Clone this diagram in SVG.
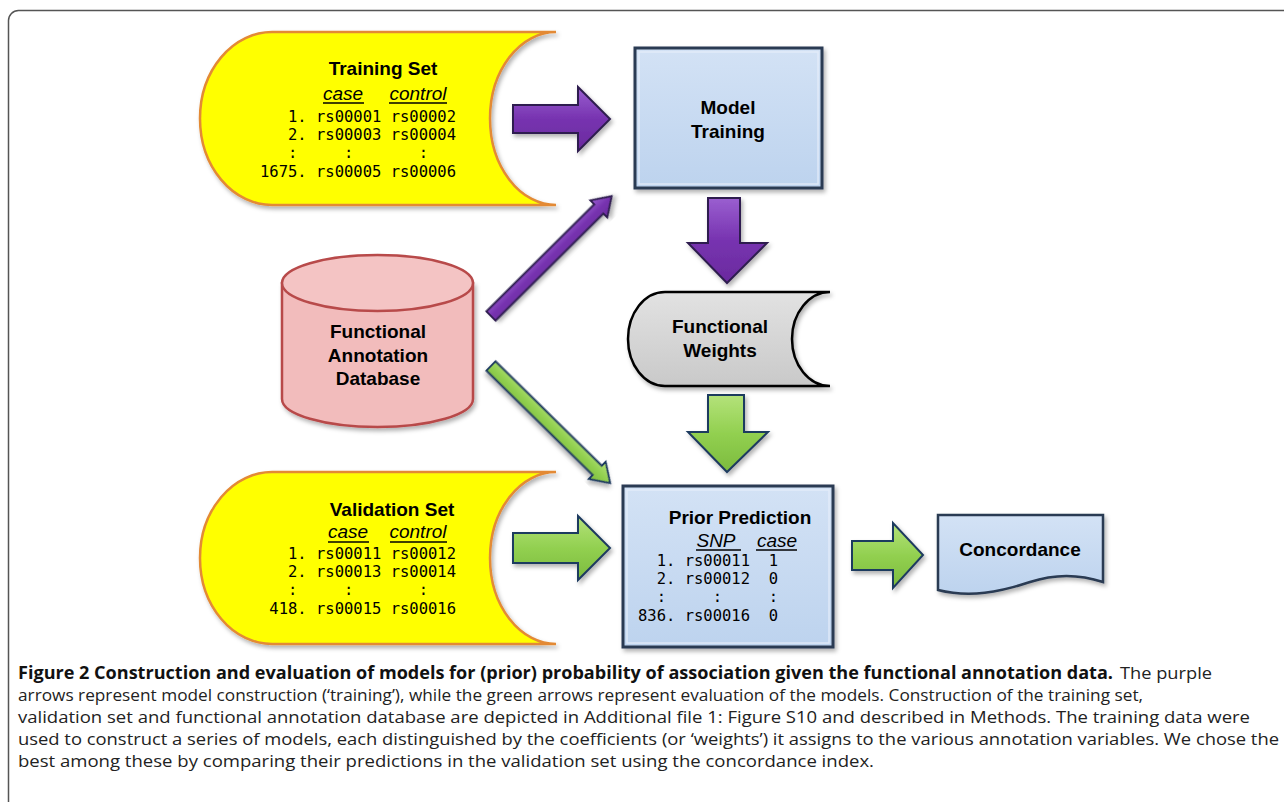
<svg xmlns="http://www.w3.org/2000/svg" width="1284" height="802" viewBox="0 0 1284 802">
<defs>
<style>
.lbl{font-family:"Liberation Sans",Arial,sans-serif;font-weight:bold;font-size:19px;fill:#000;text-anchor:middle}
.hdr{font-family:"Liberation Sans",Arial,sans-serif;font-style:italic;font-size:19px;fill:#000;text-anchor:middle}
.mono{font-family:"DejaVu Sans Mono",monospace;font-size:15.5px;fill:#000;white-space:pre}
.ul{stroke:#000;stroke-width:1.6}
.cap{font-family:"Open Sans","Liberation Sans",sans-serif;font-size:17px;fill:#222}
.capb{font-family:"Open Sans","Liberation Sans",sans-serif;font-size:17px;font-weight:bold;fill:#111}
.yel{fill:#ffff00;stroke:#e38a35;stroke-width:2.5}
.blue{fill:url(#gBlue);stroke:#2a3a52;stroke-width:3}
.bevel{fill:none;stroke:#e6eefa;stroke-width:1.5;opacity:0.8}
.purp{fill:url(#gPurp);stroke:#2f1f4f;stroke-width:2;stroke-linejoin:miter}
.green{fill:url(#gGreen);stroke:#1f3a5f;stroke-width:2;stroke-linejoin:miter}
</style>
<linearGradient id="gBlue" x1="0" y1="0" x2="0" y2="1">
<stop offset="0" stop-color="#d3e2f5"/><stop offset="1" stop-color="#bdd3ee"/>
</linearGradient>
<linearGradient id="gGray" x1="0" y1="0" x2="0" y2="1">
<stop offset="0" stop-color="#e2e2e2"/><stop offset="1" stop-color="#c9c9c9"/>
</linearGradient>
<linearGradient id="gPurp" x1="0" y1="0" x2="0" y2="1">
<stop offset="0" stop-color="#9a5fd0"/><stop offset="0.5" stop-color="#7733b0"/><stop offset="1" stop-color="#6a2a9e"/>
</linearGradient>
<linearGradient id="gGreen" x1="0" y1="0" x2="0" y2="1">
<stop offset="0" stop-color="#b4e27a"/><stop offset="0.5" stop-color="#92d050"/><stop offset="1" stop-color="#7cbb3e"/>
</linearGradient>
<filter id="sh" x="-10%" y="-10%" width="125%" height="130%">
<feDropShadow dx="2" dy="3" stdDeviation="2" flood-color="#000" flood-opacity="0.3"/>
</filter>
</defs>

<rect x="8.5" y="10.5" width="1300" height="820" rx="10" fill="#fff" stroke="#555" stroke-width="1.5"/>

<g id="connectors">
<path class="purp" filter="url(#sh)" d="M513,105 H578 V87 L610,119 L578,151 V133 H513 Z"/>
<path class="purp" filter="url(#sh)" d="M708,198 H740 V243 H767 L727,283 L688,243 H708 Z"/>
<g transform="translate(491,316) rotate(-44.8)">
<path class="purp" filter="url(#sh)" d="M0,-6.5 H152 V-12 L170,0 L152,12 V6.5 H0 Z"/>
</g>
<g transform="translate(491,366) rotate(44.5)">
<path class="green" filter="url(#sh)" d="M0,-6.5 H149 V-12 L167,0 L149,12 V6.5 H0 Z"/>
</g>
<path class="green" filter="url(#sh)" d="M708,395 H744 V432 H768 L727,472 L688,432 H708 Z"/>
<path class="green" filter="url(#sh)" d="M513,533 H578 V516 L610,548 L578,580 V563 H513 Z"/>
<path class="green" filter="url(#sh)" d="M852,541 H893 V523 L923,555 L893,588 V570 H852 Z"/>
</g>

<g id="training-set">
<path class="yel" filter="url(#sh)" d="M272,32 H556 A66,86.5 0 0 0 556,205 H272 A72,86.5 0 0 1 272,32 Z"/>
<text class="lbl" x="383" y="75">Training Set</text>
<text class="hdr" x="343" y="100">case</text>
<text class="hdr" x="418" y="100">control</text>
<line class="ul" x1="323" y1="103" x2="364" y2="103"/>
<line class="ul" x1="389" y1="103" x2="447" y2="103"/>
<text class="mono" x="260" y="122">   1. rs00001 rs00002</text>
<text class="mono" x="260" y="140">   2. rs00003 rs00004</text>
<text class="mono" x="260" y="158">   :     :       :</text>
<text class="mono" x="260" y="177">1675. rs00005 rs00006</text>
</g>

<g id="validation-set">
<path class="yel" filter="url(#sh)" d="M272,472 H556 A66,86 0 0 0 556,644 H272 A72,86 0 0 1 272,472 Z"/>
<text class="lbl" x="392" y="516">Validation Set</text>
<text class="hdr" x="348" y="538">case</text>
<text class="hdr" x="418" y="538">control</text>
<line class="ul" x1="328" y1="542" x2="369" y2="542"/>
<line class="ul" x1="390" y1="542" x2="447" y2="542"/>
<text class="mono" x="260" y="559">   1. rs00011 rs00012</text>
<text class="mono" x="260" y="577">   2. rs00013 rs00014</text>
<text class="mono" x="260" y="595">   :     :       :</text>
<text class="mono" x="260" y="614"> 418. rs00015 rs00016</text>
</g>

<g id="model-training">
<rect class="blue" filter="url(#sh)" x="635" y="48" width="187" height="140"/>
<rect class="bevel" x="639" y="52" width="179" height="132"/>
<text class="lbl" x="728" y="114">Model</text>
<text class="lbl" x="728" y="138">Training</text>
</g>

<g id="functional-annotation-database">
<path filter="url(#sh)" d="M282,283 V399 A95.5,28 0 0 0 473,399 V283 Z" fill="#f2bcbc" stroke="#b84a4a" stroke-width="2.5"/>
<ellipse cx="377.5" cy="283" rx="95.5" ry="28" fill="#f4c4c4" stroke="#b84a4a" stroke-width="2.5"/>
<text class="lbl" x="378" y="338">Functional</text>
<text class="lbl" x="378" y="362">Annotation</text>
<text class="lbl" x="378" y="385">Database</text>
</g>

<g id="functional-weights">
<path filter="url(#sh)" d="M665,292 H830 A38,47 0 0 0 830,386 H665 A37,47 0 0 1 665,292 Z" fill="url(#gGray)" stroke="#000" stroke-width="2.5"/>
<text class="lbl" x="720" y="333">Functional</text>
<text class="lbl" x="720" y="357">Weights</text>
</g>

<g id="prior-prediction">
<rect class="blue" filter="url(#sh)" x="623" y="486" width="210" height="161"/>
<rect class="bevel" x="627" y="490" width="202" height="153"/>
<text class="lbl" x="740" y="524">Prior Prediction</text>
<text class="hdr" x="716" y="547">SNP</text>
<text class="hdr" x="777" y="547">case</text>
<line class="ul" x1="696" y1="550" x2="741" y2="550"/>
<line class="ul" x1="756" y1="550" x2="797" y2="550"/>
<text class="mono" x="638" y="566">  1. rs00011  1</text>
<text class="mono" x="638" y="584">  2. rs00012  0</text>
<text class="mono" x="638" y="602">  :     :     :</text>
<text class="mono" x="638" y="621">836. rs00016  0</text>
</g>

<g id="concordance">
<path filter="url(#sh)" d="M938,515 H1103 V582 C1085,576 1060,572 1030,582 C1000,592 970,598 938,590 Z" fill="url(#gBlue)" stroke="#2a3a52" stroke-width="2.5"/>
<text class="lbl" x="1020" y="556">Concordance</text>
</g>

<g id="caption">
<text class="capb" x="18" y="679" textLength="1095" lengthAdjust="spacingAndGlyphs">Figure 2 Construction and evaluation of models for (prior) probability of association given the functional annotation data.</text>
<text class="cap" x="1120" y="679" textLength="92" lengthAdjust="spacingAndGlyphs">The purple</text>
<text class="cap" x="18" y="701" textLength="1125" lengthAdjust="spacingAndGlyphs">arrows represent model construction (‘training’), while the green arrows represent evaluation of the models. Construction of the training set,</text>
<text class="cap" x="18" y="723" textLength="1232" lengthAdjust="spacingAndGlyphs">validation set and functional annotation database are depicted in Additional file 1: Figure S10 and described in Methods. The training data were</text>
<text class="cap" x="18" y="745" textLength="1261" lengthAdjust="spacingAndGlyphs">used to construct a series of models, each distinguished by the coefficients (or ‘weights’) it assigns to the various annotation variables. We chose the</text>
<text class="cap" x="18" y="767" textLength="856" lengthAdjust="spacingAndGlyphs">best among these by comparing their predictions in the validation set using the concordance index.</text>
</g>
</svg>
